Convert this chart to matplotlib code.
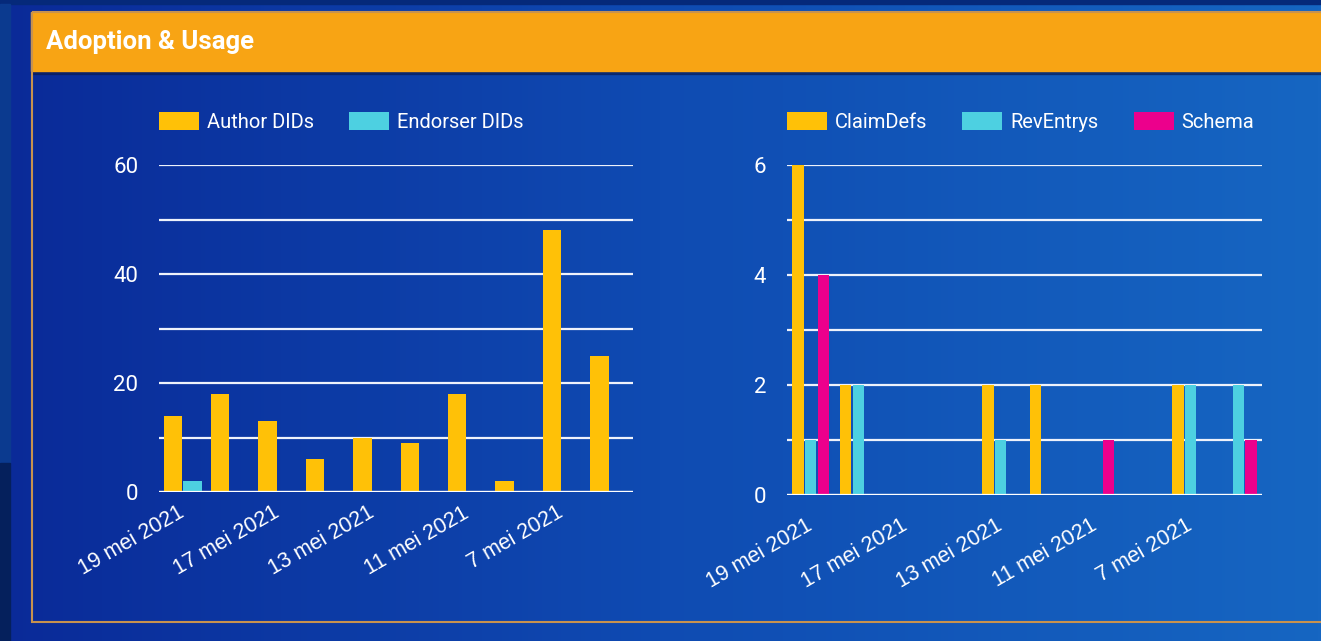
import numpy as np
import matplotlib
matplotlib.use("Agg")
import matplotlib.pyplot as plt
from matplotlib.patches import Rectangle
from matplotlib.colors import to_rgb

# ---------------- data ----------------
dates = ["19 mei 2021", "18 mei 2021", "17 mei 2021", "14 mei 2021", "13 mei 2021",
         "12 mei 2021", "11 mei 2021", "10 mei 2021", "7 mei 2021", "6 mei 2021"]
author_dids = [14, 18, 13, 6, 10, 9, 18, 2, 48, 25]
endorser_dids = [2, 0, 0, 0, 0, 0, 0, 0, 0, 0]
claim_defs = [6, 2, 0, 0, 2, 2, 0, 0, 2, 0]
rev_entrys = [1, 2, 0, 0, 1, 0, 0, 0, 2, 2]
schema = [4, 0, 0, 0, 0, 0, 1, 0, 0, 1]
left_yticks = [0, 10, 20, 30, 40, 50, 60]
right_yticks = [0, 1, 2, 3, 4, 5, 6]
title = "Adoption & Usage"

YELLOW = "#FFC107"
CYAN = "#4DD0E1"
MAGENTA = "#EC008C"

W, H = 1321, 641
fig = plt.figure(figsize=(W / 100, H / 100), dpi=100)

# ---------------- background ----------------
bg = fig.add_axes([0, 0, 1, 1])
bg.set_axis_off()
c0 = np.array(to_rgb("#0a2a98"))
c1 = np.array(to_rgb("#0f4bb2"))
c2 = np.array(to_rgb("#1666c2"))
t = np.linspace(0, 1, 400)
grad = np.where(t[:, None] < 0.5,
                c0 + (c1 - c0) * (t[:, None] / 0.5),
                c1 + (c2 - c1) * ((t[:, None] - 0.5) / 0.5))
bg.imshow(grad[None, :, :], extent=[0, W, H, 0], aspect="auto", zorder=0)
bg.set_xlim(0, W)
bg.set_ylim(H, 0)
bg.add_patch(Rectangle((0, 0), W, 4, color="#05297a", zorder=1))
bg.add_patch(Rectangle((0, 4), 10, 459, color="#0b3a8f", zorder=1))
bg.add_patch(Rectangle((0, 463), 10, 178, color="#05205c", zorder=1))
bg.add_patch(Rectangle((31, 71), W + 20, 2.5, color="#0a1a50", alpha=0.6, zorder=2))
bg.add_patch(Rectangle((31, 12), W + 20, 59, color="#F8A414", zorder=3))
bg.add_patch(Rectangle((31.5, 12), W + 20, 610, fill=False, edgecolor="#C8924E", lw=1.5, zorder=3))
bg.text(46, 42, title, color="white", fontsize=18.5, fontweight="bold",
        family=["Roboto", "DejaVu Sans"], va="center", ha="left", zorder=4)

FONT = ["Roboto", "DejaVu Sans"]
XFONT = ["Liberation Sans", "DejaVu Sans"]


def make_ax(l, t_, r, b):
    ax = fig.add_axes([l / W, 1 - b / H, (r - l) / W, (b - t_) / H])
    ax.set_facecolor("none")
    for s in ax.spines.values():
        s.set_visible(False)
    return ax


def style(ax, yticks, ymax, xpad):
    x = np.arange(len(dates))
    ax.set_xlim(-0.5, len(dates) - 0.5)
    ax.set_ylim(0, ymax)
    ax.set_yticks(yticks)
    ax.set_yticklabels([str(v) if i % 2 == 0 else "" for i, v in enumerate(yticks)],
                       color="white", fontsize=16, family=FONT)
    ax.set_xticks(x[::2])
    ax.set_xticklabels(dates[::2], rotation=30, ha="right", va="center",
                       rotation_mode="anchor",
                       color="white", fontsize=15.5, family=XFONT)
    ax.tick_params(axis="y", length=0, pad=15)
    ax.tick_params(axis="x", length=0, pad=xpad)
    ax.yaxis.grid(True, color="#eef2fb", lw=1.6)
    ax.set_axisbelow(True)
    ax.axhline(0, color="white", lw=2.3, zorder=4)


x = np.arange(len(dates))

# left chart
axl = make_ax(159, 165, 633, 492)
axl.bar(x - 0.21, author_dids, width=0.39, color=YELLOW, zorder=3, label="Author DIDs")
axl.bar(x + 0.21, endorser_dids, width=0.39, color=CYAN, zorder=3, label="Endorser DIDs")
style(axl, left_yticks, 60, 14)

# right chart
axr = make_ax(787, 165, 1262, 495)
axr.bar(x - 0.27, claim_defs, width=0.24, color=YELLOW, zorder=3, label="ClaimDefs")
axr.bar(x, rev_entrys, width=0.24, color=CYAN, zorder=3, label="RevEntrys")
axr.bar(x + 0.27, schema, width=0.24, color=MAGENTA, zorder=3, label="Schema")
style(axr, right_yticks, 6, 21)

fs = 14.5
px = fs * 100 / 72
for ax, x0, n in [(axl, 159, 2), (axr, 787, 3)]:
    ax.legend(loc="center left", bbox_to_anchor=(x0 / W, 1 - 122 / H),
              bbox_transform=fig.transFigure, ncol=n, frameon=False,
              borderpad=0, borderaxespad=0, handlelength=40 / px,
              handleheight=20 / px, handletextpad=8 / px,
              columnspacing=35 / px, labelcolor="white",
              prop={"family": FONT, "size": fs})

fig.savefig("out.png", dpi=100)
